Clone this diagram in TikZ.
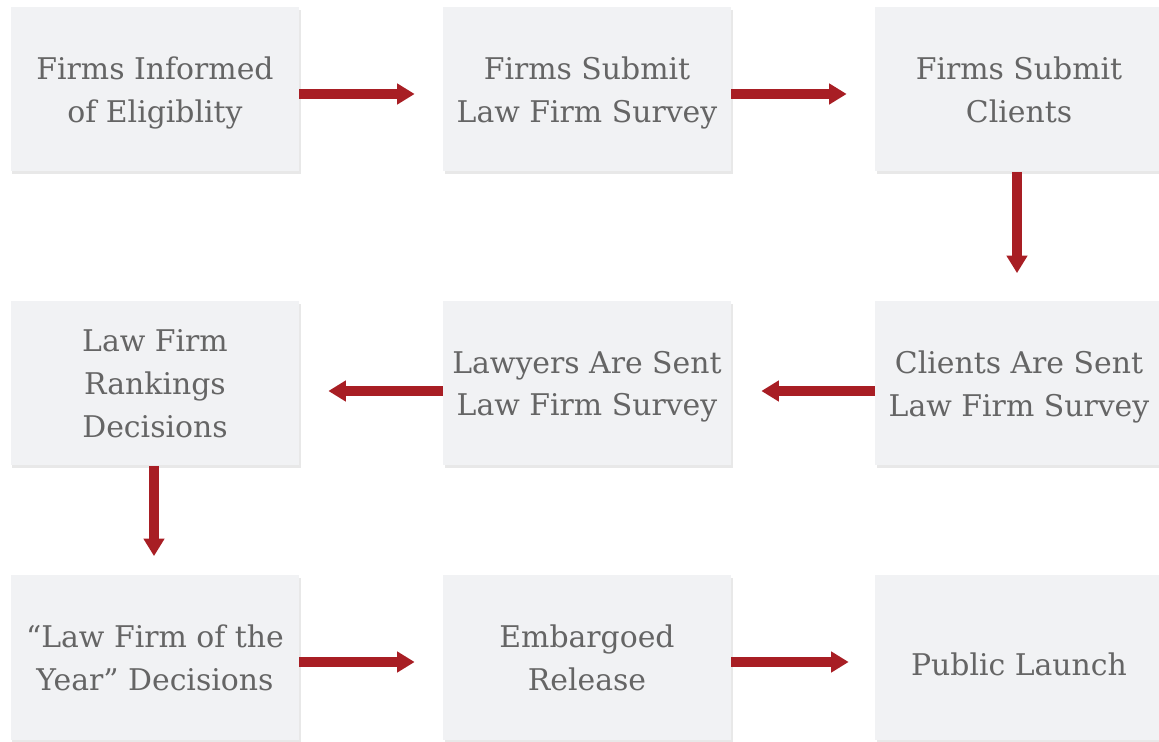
\documentclass[tikz,border=0pt]{standalone}
\usepackage{fontspec}
\setmainfont{DejaVu Serif}
\usetikzlibrary{arrows.meta,shadows}

\definecolor{boxgray}{HTML}{F1F2F4}
\definecolor{textgray}{HTML}{656565}
\definecolor{arrowred}{HTML}{A81E24}

\begin{document}
\begin{tikzpicture}[x=0.2mm,y=-0.2mm,>={Triangle[length=3.5mm,width=4mm]}]
			\useasboundingbox (0,0) rectangle (1159,742);
			\clip (0,0) rectangle (1159,742);
			\tikzstyle{every node} = [rectangle,fill=boxgray,text=textgray,align=center,
				minimum width=57.6mm,minimum height=32.8mm,inner sep=0pt,
				font=\fontsize{17}{24.2}\selectfont,text depth=-8pt,
				execute at begin node={\rule{0pt}{20.5pt}},
				drop shadow={shadow xshift=0.3mm,shadow yshift=-0.5mm,opacity=0.18}];
			\tikzstyle{flow} = [->,line width=2mm,draw=arrowred];
			\node (1) at (155,89.5) {Firms Informed\\of Eligiblity};
			\node (2) at (587,89.5) {Firms Submit\\Law Firm Survey};
			\node (3) at (1019,89.5) {Firms Submit\\Clients};
			\node (4) at (1019,383.5) {Clients Are Sent\\Law Firm Survey};
			\node (5) at (587,383.5) {Lawyers Are Sent\\Law Firm Survey};
			\node (6) at (155,383.5) {Law Firm\\Rankings\\Decisions};
			\node (7) at (155,657.5) {“Law Firm of the\\Year” Decisions};
			\node (8) at (587,657.5) {Embargoed\\Release};
			\node (9) at (1019,657.5) {Public Launch};
			\draw[flow,shorten >=5.6mm] ([yshift=-0.9mm]1.east) -- ([yshift=-0.9mm]2.west);
			\draw[flow,shorten >=5.6mm] ([yshift=-0.9mm]2.east) -- ([yshift=-0.9mm]3.west);
			\draw[flow,shorten >=5.6mm] ([xshift=-0.4mm]3.south) -- ([xshift=-0.4mm]4.north);
			\draw[flow,shorten >=6mm] ([yshift=-1.5mm]4.west) -- ([yshift=-1.5mm]5.east);
			\draw[flow,shorten >=5.8mm] ([yshift=-1.5mm]5.west) -- ([yshift=-1.5mm]6.east);
			\draw[flow,shorten >=3.8mm] ([xshift=-0.2mm]6.south) -- ([xshift=-0.2mm]7.north);
			\draw[flow,shorten >=5.6mm] ([yshift=-0.9mm]7.east) -- ([yshift=-0.9mm]8.west);
			\draw[flow,shorten >=5.2mm] ([yshift=-0.9mm]8.east) -- ([yshift=-0.9mm]9.west);
		\end{tikzpicture}
\end{document}
